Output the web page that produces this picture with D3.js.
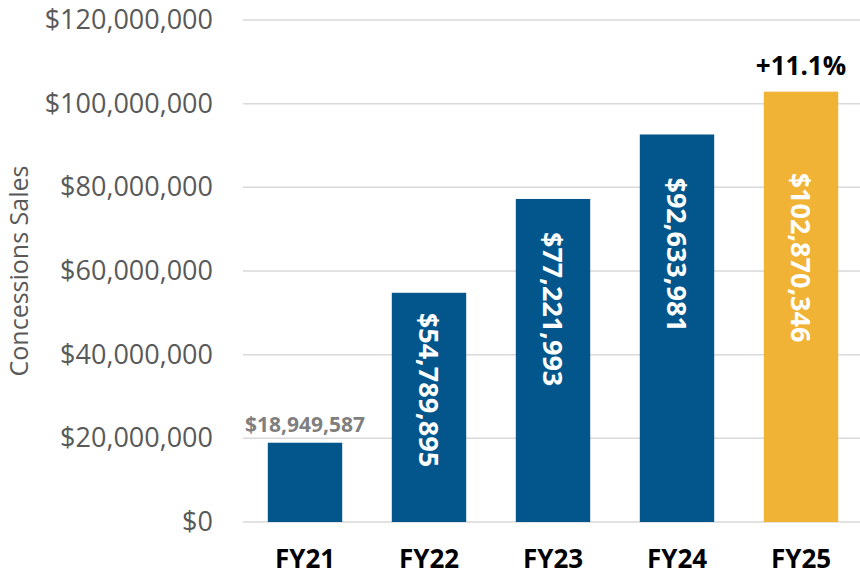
<!DOCTYPE html>
<html><head><meta charset="utf-8">
<script src="https://cdn.jsdelivr.net/npm/d3@7"></script>
<style>body{margin:0;background:#fff}svg{display:block}</style>
</head><body>
<script>
const categories = ["FY21","FY22","FY23","FY24","FY25"];
const sales = [18949587, 54789895, 77221993, 92633981, 102870346];
const yTicks = [0, 20000000, 40000000, 60000000, 80000000, 100000000, 120000000];
const growthLabel = "+11.1%";
const axisTitle = "Concessions Sales";

const W = 860, H = 577;
const margin = {left: 243, right: 0, top: 20, bottom: 55};
const svg = d3.select("body").append("svg").attr("width", W).attr("height", H);
const font = "'Open Sans', sans-serif";

const x = d3.scaleBand().domain(categories).range([margin.left, 863]).paddingInner(0.4).paddingOuter(0.2);
const y = d3.scaleLinear().domain([0, 120000000]).range([522, margin.top]);

const fmt = d3.format("$,");

// gridlines
svg.append("g").selectAll("line").data(yTicks).join("line")
  .attr("x1", margin.left).attr("x2", W)
  .attr("y1", d => y(d)).attr("y2", d => y(d))
  .attr("stroke", "#d9d9d9").attr("stroke-width", 1.5);

// y axis labels
const yAxis = d3.axisLeft(y).tickValues(yTicks).tickFormat(fmt).tickSize(0).tickPadding(30);
const gy = svg.append("g").attr("transform", `translate(${margin.left},0)`).call(yAxis);
gy.select(".domain").remove();
gy.selectAll("text").attr("font-family", font).attr("font-size", 27).attr("fill", "#595959");

// axis title
svg.append("text").attr("transform", `translate(28,271) rotate(-90)`)
  .attr("text-anchor", "middle").attr("font-family", font).attr("font-size", 25)
  .attr("fill", "#595959").text(axisTitle);

// bars
const colors = categories.map((c, i) => i === categories.length - 1 ? "#f0b336" : "#02568c");
svg.append("g").selectAll("rect").data(sales).join("rect")
  .attr("x", (d, i) => x(categories[i])).attr("width", x.bandwidth())
  .attr("y", d => y(d)).attr("height", d => y(0) - y(d))
  .attr("fill", (d, i) => colors[i]);

// x axis labels
const xAxis = d3.axisBottom(x).tickSize(0).tickPadding(28);
const gx = svg.append("g").attr("transform", `translate(0,522)`).call(xAxis);
gx.select(".domain").remove();
gx.selectAll("text").attr("font-family", font).attr("font-size", 26).attr("font-weight", "bold").attr("fill", "#000");

// first bar label above
svg.append("text").attr("x", x(categories[0]) + x.bandwidth() / 2).attr("y", y(sales[0]) - 11)
  .attr("text-anchor", "middle").attr("font-family", font).attr("font-size", 21).attr("font-weight", "bold")
  .attr("fill", "#7f7f7f").text(fmt(sales[0]));

// rotated inside labels
const labelShift = [0, 20, 33, 43, 81];
sales.forEach((v, i) => {
  if (i === 0) return;
  const cx = x(categories[i]) + x.bandwidth() / 2;
  const top = y(v) + labelShift[i];
  svg.append("text").attr("transform", `translate(${cx},${top}) rotate(90)`)
    .attr("text-anchor", "start").attr("dominant-baseline", "central")
    .attr("font-family", font).attr("font-size", 27).attr("font-weight", "bold")
    .attr("fill", "#fff").text(fmt(v));
});

// growth label
const last = categories.length - 1;
svg.append("text").attr("x", x(categories[last]) + x.bandwidth() / 2).attr("y", y(sales[last]) - 17)
  .attr("text-anchor", "middle").attr("font-family", font).attr("font-size", 26).attr("font-weight", "bold")
  .attr("fill", "#000").text(growthLabel);
</script>
</body></html>
